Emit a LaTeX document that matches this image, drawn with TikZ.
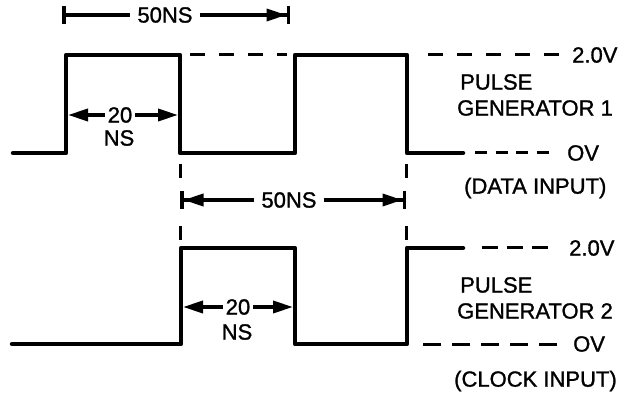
\documentclass[tikz,border=0pt]{standalone}
\usepackage{fontspec}
\setmainfont{Liberation Sans}[BoldFont=Liberation Sans, BoldFeatures={FakeBold=1.2}]
\usetikzlibrary{arrows.meta}
\begin{document}
\begin{tikzpicture}[x=1pt,y=-1pt,
  wave/.style={line width=4.5pt, line cap=round, line join=round},
  guideA/.style={line width=3pt, dash pattern=on 15pt off 14pt},
  guideB/.style={line width=3pt, dash pattern=on 12pt off 8.5pt},
  guideC/.style={line width=3pt, dash pattern=on 16pt off 9pt},
  guideD/.style={line width=3pt, dash pattern=on 18pt off 11pt},
  vguide/.style={line width=3pt, dash pattern=on 14pt off 48pt},
  dim/.style={line width=3.5pt},
  lbl/.style={font=\fontsize{22}{26}\selectfont\bfseries, inner ysep=0pt, inner xsep=7pt},
  txt/.style={font=\fontsize{22}{26}\selectfont\bfseries, inner sep=0pt, align=left},
  endab/.style={-{Triangle[length=20pt,width=12pt]Bar[width=18pt]}},
  startba/.style={{Bar[width=18pt]Triangle[length=20pt,width=12pt]}-},
  startb/.style={{Bar[width=18pt]}-},
  enda/.style={-{Triangle[length=20pt,width=12pt]}}]
\useasboundingbox (0,0) rectangle (621,395);
% named coordinates
\coordinate (t50l) at (62,15);
\coordinate (t50r) at (290,15);
\coordinate (m50l) at (180,200);
\coordinate (m50r) at (406,200);
\coordinate (a20l) at (68,115);
\coordinate (a20r) at (178,115);
\coordinate (b20l) at (183,307);
\coordinate (b20r) at (293,307);
% waveform 1
\draw[wave] (13,153) -- (66,153) -- (66,55) -- (180,55) -- (180,153) -- (295,153)
  -- (295,55) -- (407,55) -- (407,153) -- (463,153);
% waveform 2
\draw[wave] (12,344) -- (181,344) -- (181,248) -- (295,248) -- (295,344) -- (407,344)
  -- (407,248) -- (463,248);
% level guides
\draw[guideA] (190,55) -- (287,55);
\draw[guideA] (428,55) -- (560,55);
\draw[guideB] (475,153) -- (555,153);
\draw[guideC] (482,248) -- (548,248);
\draw[guideD] (423,344) -- (557,344);
% vertical guides
\draw[vguide] (180,164) -- (180,241);
\draw[vguide] (406,164) -- (406,241);
% top 50NS
\node[lbl] (top50) at (165,15) {50NS};
\draw[dim, startb] (t50l) -- (top50.west);
\draw[dim, endab] (top50.east) -- (t50r);
% middle 50NS
\node[lbl] (mid50) at (289,200) {50NS};
\draw[dim, startba] (m50l) -- (mid50.west);
\draw[dim, endab] (mid50.east) -- (m50r);
% 20 NS upper
\node[lbl, inner xsep=3pt] (a20) at (120,115) {20};
\node[txt] (ans) at (119,138) {NS};
\draw[dim, enda] (a20.west) -- (a20l);
\draw[dim, enda] (a20.east) -- (a20r);
% 20 NS lower
\node[lbl, inner xsep=3pt] (b20) at (238,307) {20};
\node[txt] (bns) at (237,332) {NS};
\draw[dim, enda] (b20.west) -- (b20l);
\draw[dim, enda] (b20.east) -- (b20r);
% right labels
\node[txt, anchor=west] (v2a) at (572,55) {2.0V};
\node[txt, anchor=west] (v0a) at (567,153) {OV};
\node[txt, anchor=west] (pg1) at (457,95) {\hspace*{3pt}PULSE\\GENERATOR 1};
\node[txt, anchor=west] (din) at (464,188) {(DATA INPUT)};
\node[txt, anchor=west] (v2b) at (569,248) {2.0V};
\node[txt, anchor=west] (v0b) at (573,344) {OV};
\node[txt, anchor=west] (pg2) at (457,298) {\hspace*{3pt}PULSE\\GENERATOR 2};
\node[txt, anchor=west] (cin) at (454,381) {(CLOCK INPUT)};
\end{tikzpicture}
\end{document}
